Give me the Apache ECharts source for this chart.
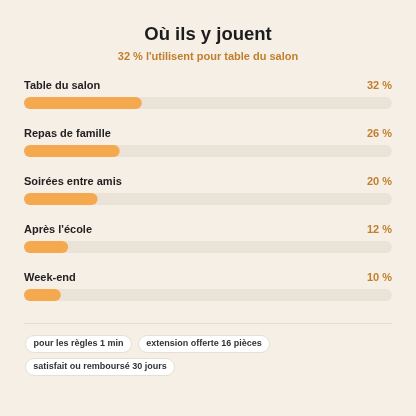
<!DOCTYPE html>
<html><head><meta charset="utf-8">
<script src="https://cdn.jsdelivr.net/npm/echarts@6/dist/echarts.min.js"></script>
<style>html,body{margin:0;padding:0;background:#f5efe6;}#c{width:416px;height:416px;}</style>
</head><body><div id="c"></div>
<script>
const titleText = "Où ils y jouent";
const subtitleText = "32 % l'utilisent pour table du salon";
const categories = ["Table du salon", "Repas de famille", "Soirées entre amis", "Après l'école", "Week-end"];
const values = [32, 26, 20, 12, 10];
const maxValue = 100;
const pills = ["pour les règles 1 min", "extension offerte 16 pièces", "satisfait ou remboursé 30 jours"];

const FONT = '"Liberation Sans", Arial, sans-serif';
const PILL_FONT = 'bold 9px ' + FONT;
const full = categories.map(() => maxValue);

const chart = echarts.init(document.getElementById('c'), null, {renderer: 'canvas'});

// flow layout of pills
const ctx = document.createElement('canvas').getContext('2d');
ctx.font = PILL_FONT;
const pillGraphics = [];
let px = 25, py = 335;
const padX = 7.5, gap = 7, rowH = 23, maxX = 392;
pills.forEach(t => {
  const w = Math.ceil(ctx.measureText(t).width + padX * 2);
  if (px + w > maxX) { px = 25; py += rowH; }
  pillGraphics.push({
    type: 'group', left: px, top: py,
    children: [
      {type: 'rect', shape: {x: 0, y: 0, width: w, height: 17, r: 8.5},
        style: {fill: '#ffffff', stroke: '#e8dfd2', lineWidth: 1}},
      {type: 'text', x: w / 2, y: 8.5,
        style: {text: t, font: PILL_FONT, fill: '#333333', align: 'center', verticalAlign: 'middle'}}
    ]
  });
  px += w + gap;
});

chart.setOption({
  backgroundColor: '#f5efe6',
  animation: false,
  title: {
    text: titleText, subtext: subtitleText, left: 'center', top: 20,
    itemGap: 7,
    textStyle: {fontFamily: FONT, fontSize: 18.5, fontWeight: 'bold', color: '#1c1c1c'},
    subtextStyle: {fontFamily: FONT, fontSize: 11, fontWeight: 'bold', color: '#c27e2c'}
  },
  grid: {left: 24, right: 24, top: 79, height: 240, containLabel: false},
  xAxis: {type: 'value', min: 0, max: maxValue, show: false},
  yAxis: {type: 'category', data: categories, inverse: true, show: false},
  series: [
    {
      type: 'bar', data: full, barWidth: 12, barGap: '-100%', silent: true,
      itemStyle: {color: '#ebe3d8', borderRadius: 6},
      label: {show: true, position: [0, -11], align: 'left', verticalAlign: 'middle',
        formatter: p => categories[p.dataIndex],
        fontFamily: FONT, fontSize: 11, fontWeight: 'bold', color: '#222222'}
    },
    {
      type: 'bar', data: values, barWidth: 12, barGap: '-100%',
      itemStyle: {color: '#f5a94e', borderRadius: 6}
    },
    {
      type: 'bar', data: full, barWidth: 12, barGap: '-100%', silent: true,
      itemStyle: {color: 'rgba(0,0,0,0)'},
      label: {show: true, position: ['100%', -11], align: 'right', verticalAlign: 'middle',
        formatter: p => values[p.dataIndex] + ' %',
        fontFamily: FONT, fontSize: 11, fontWeight: 'bold', color: '#c27e2c'}
    }
  ],
  graphic: [
    {type: 'line', shape: {x1: 24, y1: 323.5, x2: 392, y2: 323.5}, style: {stroke: '#e6ddd0', lineWidth: 1}}
  ].concat(pillGraphics)
});
</script></body></html>
